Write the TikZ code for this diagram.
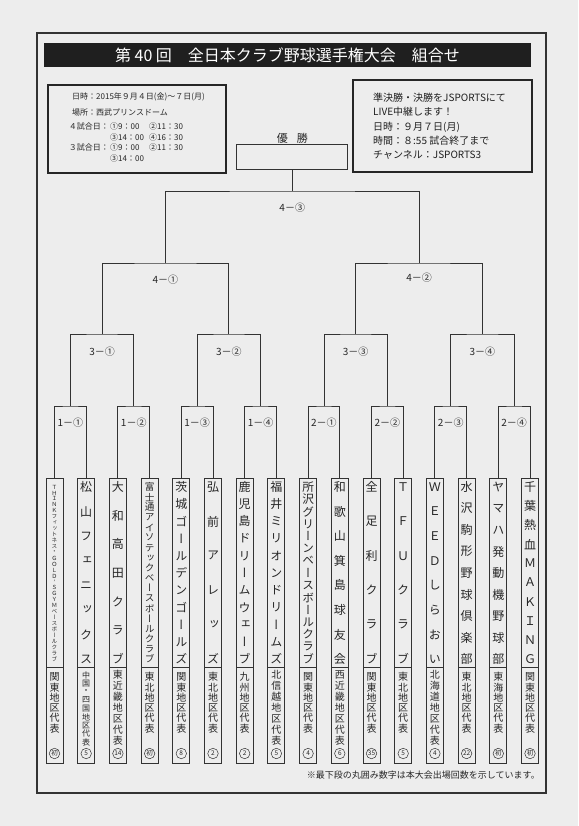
\documentclass[tikz,border=0pt]{standalone}
\usepackage{fontspec}
\usetikzlibrary{calc}
\setmainfont{Noto Sans CJK JP}
\newfontfamily\vfont[RawFeature={+vert}]{Noto Sans CJK JP}
\tikzset{
  ln/.style={draw=black!80, line width=0.9pt},
  lbl/.style={font=\fontsize{10}{10}\selectfont, text=black!85, inner sep=0pt},
  infol/.style={font=\fontsize{8}{8}\selectfont, text=black!85, inner sep=0pt},
  infor/.style={font=\fontsize{10}{10}\selectfont, text=black!88, inner sep=0pt, anchor=west},
  teambox/.style={draw=black!80, line width=0.9pt, minimum width=17pt, minimum height=285pt, inner sep=0pt},
  circ/.style={circle, draw=black!80, line width=0.5pt, minimum size=10.5pt, inner sep=0pt, font=\fontsize{6.5}{6.5}\selectfont, text=black!85},
  infobox/.style={draw=black!85, line width=1.6pt, inner sep=0pt},
}
\newcommand\teamcol[6]{%
  \pgfmathsetmacro\tmX{54.5+31.7*(#1-1)}%
  \node[teambox] (team#1) at (\tmX,620.5) {};
  \draw[ln] ({\tmX-8.5},667) -- ({\tmX+8.5},667);
  \pgfmathsetmacro\tmS{172/(#2-1)}%
  \pgfmathsetmacro\tmF{min(12,0.95*\tmS)}%
  \foreach \ch [count=\i] in {#3} {\node[inner sep=0pt, text=black!85, font=\vfont\fontsize{\tmF}{\tmF}\selectfont] (t#1n\i) at (\tmX,{487+(\i-1)*\tmS}) {\ch};}
  \pgfmathsetmacro\tmR{#4>7 ? 8.4 : (#4>6 ? 11 : 10.3)}%
  \pgfmathsetmacro\tmY{#4>6 ? 675 : 677}%
  \pgfmathsetmacro\tmG{#4>7 ? 8 : 10}%
  \foreach \ch [count=\i] in {#5} {\node[inner sep=0pt, text=black!85, font=\vfont\fontsize{\tmG}{\tmG}\selectfont] (t#1r\i) at (\tmX,{\tmY+(\i-1)*\tmR}) {\ch};}
  \node[circ] (t#1c) at (\tmX,753.5) {#6};
}
\begin{document}
\begin{tikzpicture}[x=1pt,y=-1pt]
\useasboundingbox (0,0) rectangle (578,826);
\fill[black!7] (0,0) rectangle (578,826);
\draw[line width=1.5pt, black!80] (37,33) rectangle (546,793);
% title
\node[fill=black!88, minimum width=487pt, minimum height=24pt, inner sep=0pt, text=white, font=\fontsize{16}{16}\selectfont] (title) at (287.5,55) {第 40 回\quad 全日本クラブ野球選手権大会\quad 組合せ};
% left info box
\node[infobox, minimum width=178pt, minimum height=88pt] (infoL) at (137,129) {};
\node[infol, anchor=west] (iL1) at (72,97) {日時：2015年９月４日(金)～７日(月)};
\node[infol, anchor=west] (iL2) at (72,112) {場所：西武プリンスドーム};
\node[infol, anchor=east] (iL3) at (109,126) {４試合日：};
\node[infol, anchor=west] (iL3a) at (110,126) {①9：00};
\node[infol, anchor=west] (iL3b) at (149,126) {②11：30};
\node[infol, anchor=west] (iL4a) at (110,137) {③14：00};
\node[infol, anchor=west] (iL4b) at (149,137) {④16：30};
\node[infol, anchor=east] (iL5) at (109,147) {３試合日：};
\node[infol, anchor=west] (iL5a) at (110,147) {①9：00};
\node[infol, anchor=west] (iL5b) at (149,147) {②11：30};
\node[infol, anchor=west] (iL6a) at (110,158) {③14：00};
% right info box
\node[infobox, minimum width=179pt, minimum height=92pt] (infoR) at (442.5,126) {};
\node[infor] (iR1) at (373,98) {準決勝・決勝をJSPORTSにて};
\node[infor] (iR2) at (373,112) {LIVE中継します！};
\node[infor] (iR3) at (373,127) {日時：９月７日(月)};
\node[infor] (iR4) at (373,141) {時間：８:55~試合終了まで};
\node[infor] (iR5) at (373,155) {チャンネル：JSPORTS3};
% teams
\teamcol{1}{30}{Ｔ,Ｈ,Ｉ,Ｎ,Ｋ,フ,ィ,ッ,ト,ネ,ス,・,Ｇ,Ｏ,Ｌ,Ｄ,’,Ｓ,Ｇ,Ｙ,Ｍ,ベ,ー,ス,ボ,ー,ル,ク,ラ,ブ}{6}{関,東,地,区,代,表}{初}
\teamcol{2}{8}{松,山,フ,ェ,ニ,ッ,ク,ス}{9}{中,国,・,四,国,地,区,代,表}{5}
\teamcol{3}{7}{大,和,高,田,ク,ラ,ブ}{7}{東,近,畿,地,区,代,表}{14}
\teamcol{4}{18}{富,士,通,ア,イ,ソ,テ,ッ,ク,ベ,ー,ス,ボ,ー,ル,ク,ラ,ブ}{6}{東,北,地,区,代,表}{初}
\teamcol{5}{11}{茨,城,ゴ,ー,ル,デ,ン,ゴ,ー,ル,ズ}{6}{関,東,地,区,代,表}{8}
\teamcol{6}{6}{弘,前,ア,レ,ッ,ズ}{6}{東,北,地,区,代,表}{2}
\teamcol{7}{11}{鹿,児,島,ド,リ,ー,ム,ウ,ェ,ー,ブ}{6}{九,州,地,区,代,表}{2}
\teamcol{8}{11}{福,井,ミ,リ,オ,ン,ド,リ,ー,ム,ズ}{7}{北,信,越,地,区,代,表}{5}
\teamcol{9}{15}{所,沢,グ,リ,ー,ン,ベ,ー,ス,ボ,ー,ル,ク,ラ,ブ}{6}{関,東,地,区,代,表}{4}
\teamcol{10}{8}{和,歌,山,箕,島,球,友,会}{7}{西,近,畿,地,区,代,表}{6}
\teamcol{11}{6}{全,足,利,ク,ラ,ブ}{6}{関,東,地,区,代,表}{35}
\teamcol{12}{6}{Ｔ,Ｆ,Ｕ,ク,ラ,ブ}{6}{東,北,地,区,代,表}{5}
\teamcol{13}{8}{Ｗ,Ｅ,Ｅ,Ｄ,し,ら,お,い}{7}{北,海,道,地,区,代,表}{4}
\teamcol{14}{9}{水,沢,駒,形,野,球,倶,楽,部}{6}{東,北,地,区,代,表}{22}
\teamcol{15}{9}{ヤ,マ,ハ,発,動,機,野,球,部}{6}{東,海,地,区,代,表}{初}
\teamcol{16}{10}{千,葉,熱,血,Ｍ,Ａ,Ｋ,Ｉ,Ｎ,Ｇ}{6}{関,東,地,区,代,表}{初}
% bracket coordinates
\foreach \k in {1,...,8} {\coordinate (m\k) at ({54.5+31.7*(2*\k-1.5)},406);}
\foreach \k in {1,...,4} {\coordinate (s\k) at ({54.5+31.7*(4*\k-2.5)},334);}
\foreach \k in {1,2} {\coordinate (q\k) at ({54.5+31.7*(8*\k-4.5)},263);}
\coordinate (fin) at ({54.5+31.7*7.5},191);
% winner box
\node[draw=black!80, line width=0.9pt, minimum width=111pt, minimum height=25pt, inner sep=0pt] (win) at ({54.5+31.7*7.5},156.5) {};
\node[font=\fontsize{11}{11}\selectfont, text=black!85, inner sep=0pt] (winl) at ({54.5+31.7*7.5},138) {優\hspace{9pt}勝};
% bracket lines
\foreach \k in {1,...,8} {
  \pgfmathtruncatemacro\ta{2*\k-1}\pgfmathtruncatemacro\tb{2*\k}
  \draw[ln] (team\ta.north) |- (m\k) -| (team\tb.north);
}
\foreach \k in {1,...,4} {
  \pgfmathtruncatemacro\ta{2*\k-1}\pgfmathtruncatemacro\tb{2*\k}
  \draw[ln] (m\ta) |- (s\k) -| (m\tb);
}
\draw[ln] (s1) |- (q1) -| (s2);
\draw[ln] (s3) |- (q2) -| (s4);
\draw[ln] (q1) |- (fin) -| (q2);
\draw[ln] (fin) -- (win.south);
% match labels
\foreach \k/\t in {1/1－①,2/1－②,3/1－③,4/1－④,5/2－①,6/2－②,7/2－③,8/2－④} {
  \node[lbl] (lm\k) at ($(m\k)+(0,17)$) {\t};
}
\foreach \k/\t in {1/3－①,2/3－②,3/3－③,4/3－④} {
  \node[lbl] (ls\k) at ($(s\k)+(0,18)$) {\t};
}
\node[lbl] (lq1) at ($(q1)+(0,17)$) {4－①};
\node[lbl] (lq2) at ($(q2)+(0,15)$) {4－②};
\node[lbl] (lfin) at ($(fin)+(0,17)$) {4－③};
% footnote
\node[font=\fontsize{9}{9}\selectfont, text=black!85, inner sep=0pt, anchor=east] (foot) at (540,775) {※最下段の丸囲み数字は本大会出場回数を示しています。};
\end{tikzpicture}
\end{document}
